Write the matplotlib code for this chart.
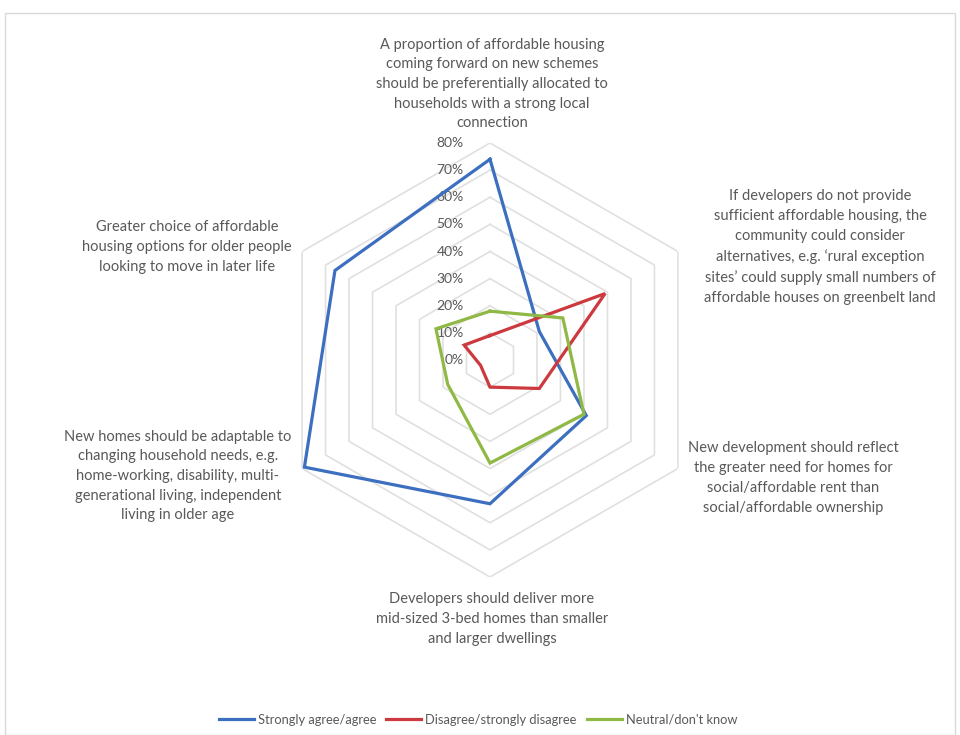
import numpy as np
import matplotlib
matplotlib.use("Agg")
import matplotlib.pyplot as plt
from matplotlib.patches import Rectangle
from matplotlib.lines import Line2D

plt.rcParams['font.family'] = ['Lato', 'DejaVu Sans']

statements = [
    "A proportion of affordable housing\ncoming forward on new schemes\nshould be preferentially allocated to\nhouseholds with a strong local\nconnection",
    "If developers do not provide\nsufficient affordable housing, the\ncommunity could consider\nalternatives, e.g. \u2018rural exception\nsites\u2019 could supply small numbers of\naffordable houses on greenbelt land",
    "New development should reflect\nthe greater need for homes for\nsocial/affordable rent than\nsocial/affordable ownership",
    "Developers should deliver more\nmid-sized 3-bed homes than smaller\nand larger dwellings",
    "New homes should be adaptable to\nchanging household needs, e.g.\nhome-working, disability, multi-\ngenerational living, independent\nliving in older age",
    "Greater choice of affordable\nhousing options for older people\nlooking to move in later life",
]

agree = [0.74, 0.21, 0.41, 0.53, 0.79, 0.66]
disagree = [0.09, 0.49, 0.21, 0.10, 0.04, 0.11]
neutral = [0.18, 0.31, 0.40, 0.38, 0.18, 0.23]

series = ["Strongly agree/agree", "Disagree/strongly disagree", "Neutral/don't know"]
colors = ["#3d6fc0", "#cc3a3f", "#8fb944"]
ticks = np.arange(0, 0.81, 0.1)

W, H = 960, 735
fig = plt.figure(figsize=(W / 100, H / 100), dpi=100)
fig.patches.append(Rectangle((5 / W, 0), 950 / W, 1 - 13 / H, transform=fig.transFigure,
                             fill=False, edgecolor="#d9d9d9", linewidth=1))

cx, cy, R = 490, 360, 217
ax = fig.add_axes([(cx - R) / W, (H - cy - R) / H, 2 * R / W, 2 * R / H], projection="polar")
ax.set_theta_zero_location("N")
ax.set_theta_direction(-1)
ax.set_ylim(0, 0.8)
ax.grid(False)
ax.set_xticks([])
ax.set_yticks([])
ax.spines["polar"].set_visible(False)
ax.patch.set_visible(False)

n = len(statements)
theta = np.linspace(0, 2 * np.pi, n, endpoint=False)
closed = np.append(theta, theta[0])

# hexagonal gridlines
for r in ticks[1:]:
    ax.plot(closed, [r] * (n + 1), color="#e0e0e0", lw=1.2, zorder=1)

for r in ticks:
    ax.annotate(f"{r * 100:.0f}%", xy=(0, r), xytext=(-19, 0), textcoords="offset points",
                ha="right", va="center", fontsize=10, color="#595959")

for vals, c in zip([agree, disagree, neutral], colors):
    ax.plot(closed, vals + vals[:1], color=c, lw=2.3, zorder=3, solid_joinstyle="miter")

label_pos = [(492, 84), (820, 247), (793, 478), (492, 619), (178, 476), (187, 247)]
for txt, (x, y) in zip(statements, label_pos):
    fig.text(x / W, 1 - y / H, txt, ha="center", va="center", fontsize=10.5,
             color="#595959", linespacing=1.52)

handles = [Line2D([], [], color=c, lw=2.3) for c in colors]
fig.legend(handles, series, loc="center", bbox_to_anchor=(478 / W, 1 - 720 / H), ncol=3,
           frameon=False, fontsize=9.3, labelcolor="#595959", handlelength=2.7,
           columnspacing=0.8, handletextpad=0.3)

fig.savefig("out.png", dpi=100, facecolor="white")
